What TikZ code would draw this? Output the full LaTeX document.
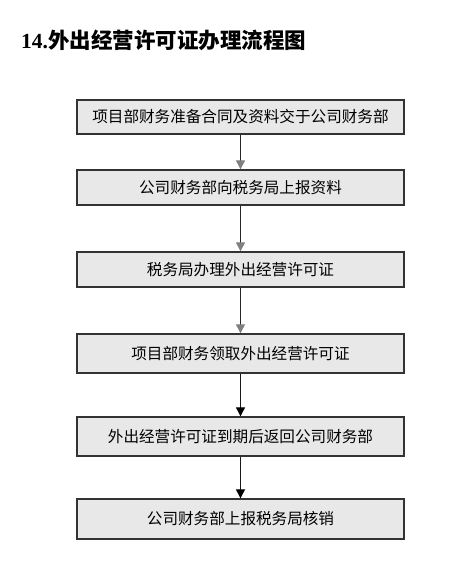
\documentclass[tikz,border=0pt]{standalone}
\usepackage{fontspec}
\setmainfont{Liberation Serif}
\newfontfamily\cjk{Noto Sans CJK SC}
\usetikzlibrary{arrows.meta}
\begin{document}
\begin{tikzpicture}[x=1pt,y=-1pt,
  stepbox/.style={draw=black!80, line width=1.3pt, fill=black!9, minimum width=327pt, inner sep=0pt,
    font=\cjk\fontsize{15.6}{15.6}\selectfont},
  flow/.style={draw=black!85, line width=0.9pt, -{Triangle[length=9pt,width=9pt,color=black!50,fill=black!50]}},
  flowdark/.style={draw=black!90, line width=0.9pt, -{Triangle[length=9pt,width=9pt,color=black,fill=black]}}]
\useasboundingbox[fill=white] (0,0) rectangle (460,571);
\node[anchor=base west, inner sep=0pt, font=\fontsize{21.5}{21.5}\selectfont\bfseries] (title) at (21,48)
  {14.{\cjk 外出经营许可证办理流程图}};
\node[stepbox, minimum height=34pt] (b1) at (240.5,117) {项目部财务准备合同及资料交于公司财务部};
\node[stepbox, minimum height=35pt] (b2) at (240.5,187.5) {公司财务部向税务局上报资料};
\node[stepbox, minimum height=35pt] (b3) at (240.5,269.5) {税务局办理外出经营许可证};
\node[stepbox, minimum height=39pt] (b4) at (240.5,353.5) {项目部财务领取外出经营许可证};
\node[stepbox, minimum height=39pt] (b5) at (240.5,436.5) {外出经营许可证到期后返回公司财务部};
\node[stepbox, minimum height=40pt] (b6) at (240.5,519) {公司财务部上报税务局核销};
\draw[flow] (b1.south) -- (b2.north);
\draw[flow] (b2.south) -- (b3.north);
\draw[flow] (b3.south) -- (b4.north);
\draw[flowdark] (b4.south) -- (b5.north);
\draw[flowdark] (b5.south) -- (b6.north);
\end{tikzpicture}
\end{document}
